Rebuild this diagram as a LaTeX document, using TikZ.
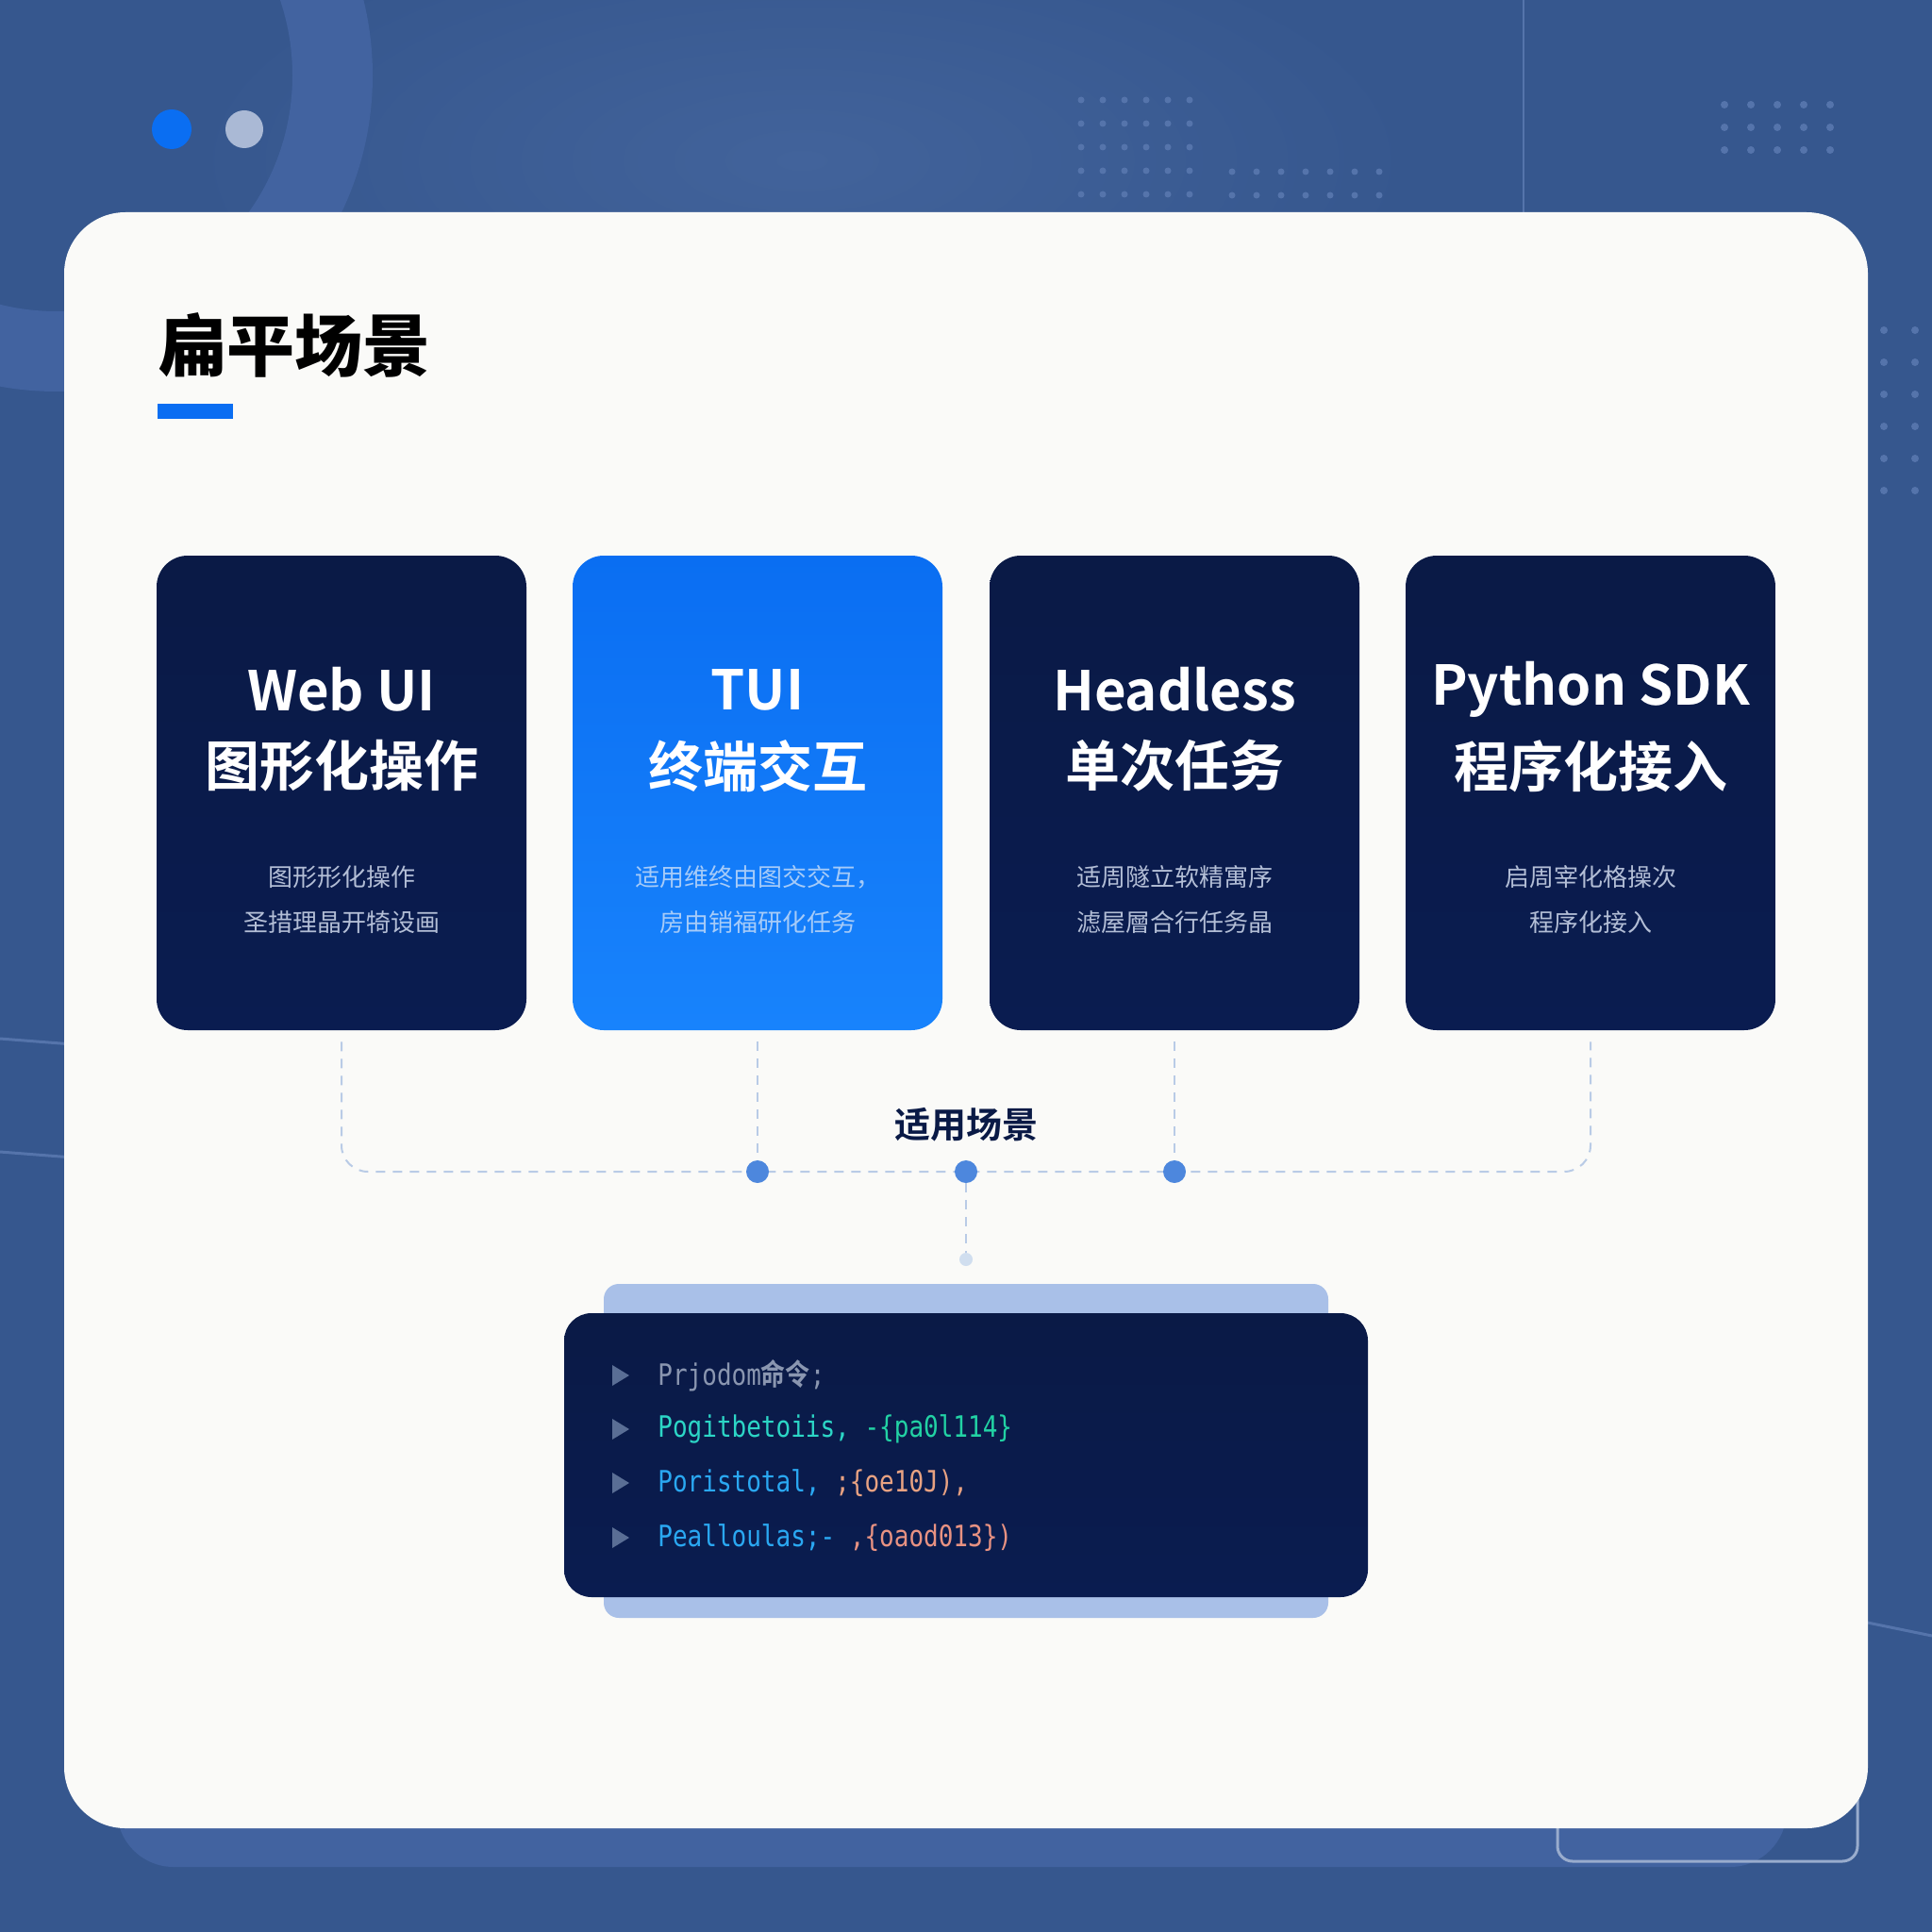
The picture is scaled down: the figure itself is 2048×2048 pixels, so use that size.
\documentclass[tikz,border=0pt]{standalone}
\usepackage{fontspec}
\usepackage{graphicx}
\setmainfont{Noto Sans CJK SC}[BoldFont={Noto Sans CJK SC Bold}]
\newfontfamily\cjk{Noto Sans CJK SC}[BoldFont={Noto Sans CJK SC Bold}]
\newfontfamily\cjkblack{Noto Sans CJK SC Black}
\setmonofont{DejaVu Sans Mono}
\usetikzlibrary{calc}
\definecolor{bgblue}{HTML}{36578E}
\definecolor{bglight}{HTML}{42639B}
\definecolor{ringcol}{HTML}{4263A0}
\definecolor{dotcol}{HTML}{5574AB}
\definecolor{navy}{HTML}{0A1A46}
\definecolor{navyb}{HTML}{0A1C50}
\definecolor{bluetop}{HTML}{0A6EF2}
\definecolor{bluebot}{HTML}{1883FC}
\definecolor{subgrey}{HTML}{B3BED6}
\definecolor{subblue}{HTML}{A6CBF8}
\definecolor{conncol}{HTML}{B9CBE6}
\definecolor{dotblue}{HTML}{4D87DD}
\definecolor{paledot}{HTML}{D0DEEF}
\definecolor{plate}{HTML}{A9C0E8}
\definecolor{tricol}{HTML}{5A6E95}
\definecolor{cgrey}{HTML}{8A96B0}
\definecolor{cteal}{HTML}{2CD6C6}
\definecolor{cgreen}{HTML}{22D2A4}
\definecolor{cblue}{HTML}{2AA8F2}
\definecolor{corange}{HTML}{E8A282}
\definecolor{csalmon}{HTML}{E89282}
\definecolor{cardwhite}{HTML}{FAFAF8}
\begin{document}
\begin{tikzpicture}[x=0.5pt,y=-0.5pt,
  darkcard/.style={rounded corners=16.5pt, minimum width=196pt, minimum height=251.5pt, inner sep=0pt, top color=navy, bottom color=navyb, draw=none},
  bluecard/.style={rounded corners=16.5pt, minimum width=196pt, minimum height=251.5pt, inner sep=0pt, top color=bluetop, bottom color=bluebot, draw=none},
  cardtitle/.style={text=white, font=\cjk\bfseries\fontsize{29pt}{34pt}\selectfont, inner sep=0pt},
  subdark/.style={text=subgrey, font=\cjk\fontsize{13pt}{16pt}\selectfont, inner sep=0pt},
  subbright/.style={text=subblue, font=\cjk\fontsize{13pt}{16pt}\selectfont, inner sep=0pt},
  conn/.style={draw=conncol, line width=1pt, dash pattern=on 5pt off 4pt},
  hubdot/.style={circle, fill=dotblue, minimum size=12pt, inner sep=0pt},
  codetext/.style={anchor=west, inner sep=0pt, font=\ttfamily\fontsize{13pt}{16pt}\selectfont},
]
\useasboundingbox (0,0) rectangle (2048,2048);
% background
\fill[bgblue] (0,0) rectangle (2048,2048);
\shade[inner color=bglight, outer color=bgblue] (850,170) ellipse (650 and 260);
% ring decoration
\fill[ringcol, even odd rule] (60,80) circle (335) (60,80) circle (250);
% vertical thin line
\draw[color=dotcol, line width=1pt] (1615,0) -- (1615,225);
% faint lines
\draw[color=dotcol, line width=1.5pt] (0,1101) -- (90,1108);
\draw[color=dotcol, line width=1.5pt] (0,1221) -- (90,1228);
\draw[color=dotcol, line width=1.5pt] (1960,1716) -- (2048,1734);
% dot grids
\foreach \i in {0,...,5}{\foreach \j in {0,...,4}{\fill[dotcol] (1146+23*\i,106+25*\j) circle (3.5);}}
\foreach \i in {0,...,6}{\foreach \j in {0,1}{\fill[dotcol] (1306+26*\i,182+25*\j) circle (3.5);}}
\foreach \i in {0,...,4}{\foreach \j in {0,...,2}{\fill[dotcol] (1828+28*\i,111+24*\j) circle (4);}}
\foreach \i in {0,1}{\foreach \j in {0,...,5}{\fill[dotcol] (1997+33*\i,350+34*\j) circle (4);}}
% top-left dots
\node[circle, fill=bluetop, minimum size=21pt, inner sep=0pt] (dotA) at (182,137) {};
\node[circle, fill=dotcol!50!white, minimum size=20pt, inner sep=0pt] (dotB) at (259,137) {};
% shadow plate below main card
\fill[ringcol, rounded corners=30pt] (124,1800) rectangle (1894,1979);
% watermark box
\draw[color=dotcol!60!white, line width=1.5pt, rounded corners=8pt] (1651,1860) rectangle (1969,1973);
% main white card
\node[fill=cardwhite, rounded corners=32.5pt, minimum width=956pt, minimum height=856.5pt, inner sep=0pt] (main) at (1024,1081.5) {};
% title
\node[anchor=west, inner sep=0pt, font=\cjkblack\fontsize{36pt}{40pt}\selectfont] (title) at (168,366) {扁平场景};
\fill[bluetop] (167,428) rectangle (247,444);
% cards
\node[darkcard] (c1) at (362,840.5) {};
\node[bluecard] (c2) at (803,840.5) {};
\node[darkcard] (c3) at (1245,840.5) {};
\node[darkcard] (c4) at (1686,840.5) {};
% card texts
\node[cardtitle] (t1a) at (362,731) {Web UI};
\node[cardtitle] (t1b) at (362,812) {图形化操作};
\node[subdark] (s1a) at (362,930) {图形形化操作};
\node[subdark] (s1b) at (362,978) {圣措理晶开犄设画};
\node[cardtitle] (t2a) at (803,731) {TUI};
\node[cardtitle] (t2b) at (803,812) {终端交互};
\node[subbright] (s2a) at (803,930) {适用维终由图交交互，};
\node[subbright] (s2b) at (803,978) {房由销福研化任务};
\node[cardtitle] (t3a) at (1245,731) {Headless};
\node[cardtitle] (t3b) at (1245,812) {单次任务};
\node[subdark] (s3a) at (1245,930) {适周隧立软精寓序};
\node[subdark] (s3b) at (1245,978) {滤屋層合行任务晶};
\node[cardtitle] (t4a) at (1686,731) {Python SDK};
\node[cardtitle] (t4b) at (1686,812) {程序化接入};
\node[subdark] (s4a) at (1686,930) {启周宰化格操次};
\node[subdark] (s4b) at (1686,978) {程序化接入};
% connectors
\node[inner sep=0pt, text=navy, font=\cjk\bfseries\fontsize{19pt}{22pt}\selectfont] (lbl) at (1024,1192) {适用场景};
\coordinate (hub) at (1024,1242);
\draw[conn, rounded corners=14pt] ($(c1.south)+(0,12)$) |- (hub) -| ($(c4.south)+(0,12)$);
\node[hubdot] (d2) at (803,1242) {};
\node[hubdot] (dc) at (hub) {};
\node[hubdot] (d3) at (1245,1242) {};
\node[circle, fill=paledot, minimum size=7pt, inner sep=0pt] (pd) at (1024,1335) {};
\draw[conn] ($(c2.south)+(0,12)$) -- (d2.north);
\draw[conn] ($(c3.south)+(0,12)$) -- (d3.north);
\draw[conn] (dc.south) -- (pd.north);
% code box
\node[fill=plate, rounded corners=8pt, minimum width=384pt, minimum height=177pt, inner sep=0pt] (plate) at (1024,1538) {};
\node[top color=navy, bottom color=navyb, rounded corners=14.5pt, minimum width=426pt, minimum height=150.5pt, inner sep=0pt] (code) at (1024,1542.5) {};
\foreach \yy in {1458,1515,1572,1630}{\fill[tricol] (649,\yy-11) -- (667,\yy) -- (649,\yy+11) -- cycle;}
\node[codetext, text=cgrey] (l1) at (697,1458) {\scalebox{1}[1.2]{Prjodom{\cjk\bfseries 命令};}};
\node[codetext] (l2) at (697,1515) {\scalebox{1}[1.2]{\textcolor{cteal}{Pogitbetoiis,} \textcolor{cgreen}{-\{pa0l114\}}}};
\node[codetext] (l3) at (697,1572) {\scalebox{1}[1.2]{\textcolor{cblue}{Poristotal,} \textcolor{corange}{;\{oe10J),}}};
\node[codetext] (l4) at (697,1630) {\scalebox{1}[1.2]{\textcolor{cblue}{Pealloulas;-} \textcolor{csalmon}{,\{oaod013\})}}};
\end{tikzpicture}
\end{document}
